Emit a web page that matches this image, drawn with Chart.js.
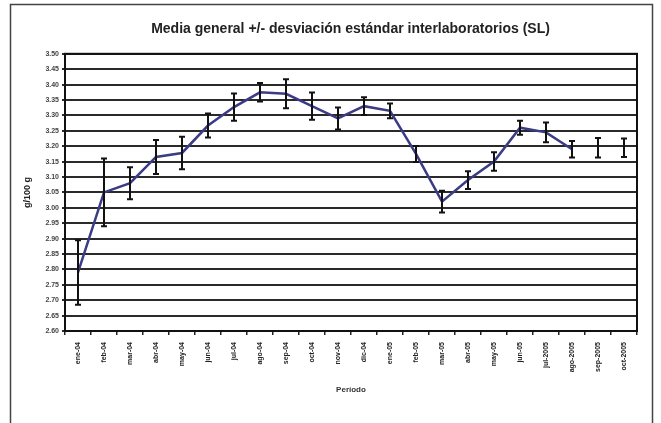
<!DOCTYPE html>
<html>
<head>
<meta charset="utf-8">
<script src="https://cdn.jsdelivr.net/npm/chart.js@4"></script>
<style>
html,body{margin:0;padding:0;background:#fff;}
#wrap{position:relative;width:661px;height:423px;}
</style>
</head>
<body>
<div id="wrap"><canvas id="c" width="661" height="423"></canvas></div>
<script>
const categories = ['ene-04','feb-04','mar-04','abr-04','may-04','jun-04','jul-04','ago-04','sep-04','oct-04','nov-04','dic-04','ene-05','feb-05','mar-05','abr-05','may-05','jun-05','jul-2005','ago-2005','sep-2005','oct-2005'];
const means = [2.79,3.05,3.08,3.165,3.178,3.267,3.327,3.375,3.37,3.33,3.29,3.33,3.315,3.175,3.02,3.09,3.15,3.26,3.245,3.19,3.195,3.195];
const sds   = [0.105,0.11,0.052,0.055,0.053,0.039,0.044,0.03,0.047,0.044,0.036,0.029,0.024,0.026,0.035,0.029,0.03,0.023,0.032,0.027,0.032,0.03];
const lastLinkedIndex = 19;
const yMin = 2.60, yMax = 3.50, yStep = 0.05;
const titleText = 'Media general +/- desviación estándar interlaboratorios (SL)';
const yTitle = 'g/100 g';
const xTitle = 'Período';

const lineColor = '#3b3b86';

const frame = {
  id:'frame',
  afterLayout(chart){
    const t = chart.titleBlock;
    if(t){ t.left += 22; t.right += 22; }
  },
  beforeDraw(chart){
    const c = chart.ctx;
    c.save();
    c.fillStyle='#fff';
    c.fillRect(0,0,chart.width,chart.height);
    c.strokeStyle='#444';
    c.lineWidth=1.5;
    c.beginPath();
    c.moveTo(10.5,440); c.lineTo(10.5,4.5); c.lineTo(652.5,4.5); c.lineTo(652.5,440);
    c.stroke();
    c.restore();
  },
  afterDraw(chart){
    const a = chart.chartArea, c = chart.ctx;
    c.save();
    c.strokeStyle='#111';
    c.lineWidth=2;
    c.strokeRect(a.left,a.top,a.right-a.left,a.bottom-a.top);
    c.restore();
  }
};

const errorBars = {
  id:'errorBars',
  afterDatasetsDraw(chart){
    const x = chart.scales.x, y = chart.scales.y, c = chart.ctx;
    c.save();
    c.strokeStyle='#111';
    c.lineWidth=2;
    for(let i=0;i<means.length;i++){
      const px = x.getPixelForValue(i);
      const t = y.getPixelForValue(means[i]+sds[i]);
      const b = y.getPixelForValue(means[i]-sds[i]);
      c.beginPath();
      c.moveTo(px,t); c.lineTo(px,b);
      c.moveTo(px-3,t); c.lineTo(px+3,t);
      c.moveTo(px-3,b); c.lineTo(px+3,b);
      c.stroke();
    }
    c.restore();
  }
};

new Chart(document.getElementById('c'),{
  type:'line',
  data:{
    labels:categories,
    datasets:[{
      data:means,
      borderColor:lineColor,
      borderWidth:2.5,
      pointRadius:0,
      tension:0,
      segment:{borderColor: ctx => ctx.p0DataIndex >= lastLinkedIndex ? 'rgba(0,0,0,0)' : lineColor}
    }]
  },
  options:{
    responsive:false,
    animation:false,
    layout:{padding:{left:20,right:24,top:0,bottom:26}},
    plugins:{
      legend:{display:false},
      tooltip:{enabled:false},
      title:{display:true,text:titleText,color:'#222',
        font:{family:'Liberation Sans',size:14,weight:'bold'},
        padding:{top:21,bottom:16}}
    },
    scales:{
      x:{
        offset:true,
        grid:{display:true,drawOnChartArea:false,offset:true,color:'#222',tickLength:4,lineWidth:1.5},
        border:{display:true,color:'#111',width:2},
        ticks:{maxRotation:90,minRotation:90,color:'#222',padding:7,
          font:{family:'Liberation Sans',size:7,weight:'bold'}},
        title:{display:true,text:xTitle,color:'#333',padding:{top:2,bottom:2},
          font:{family:'Liberation Sans',size:8,weight:'bold'}},
        afterFit(s){s.height=66;}
      },
      y:{
        min:yMin,max:yMax,
        grid:{color:'#2a2a2a',lineWidth:2,tickLength:3},
        border:{display:true,color:'#111',width:2},
        ticks:{stepSize:yStep,color:'#444',padding:3,
          callback:v=>Number(v).toFixed(2),
          font:{family:'Liberation Sans',size:7,weight:'bold'}},
        title:{display:true,text:yTitle,color:'#222',padding:{top:2,bottom:2},
          font:{family:'Liberation Sans',size:9,weight:'bold'}},
        afterFit(s){s.width=45;}
      }
    }
  },
  plugins:[frame,errorBars]
});
</script>
</body>
</html>
